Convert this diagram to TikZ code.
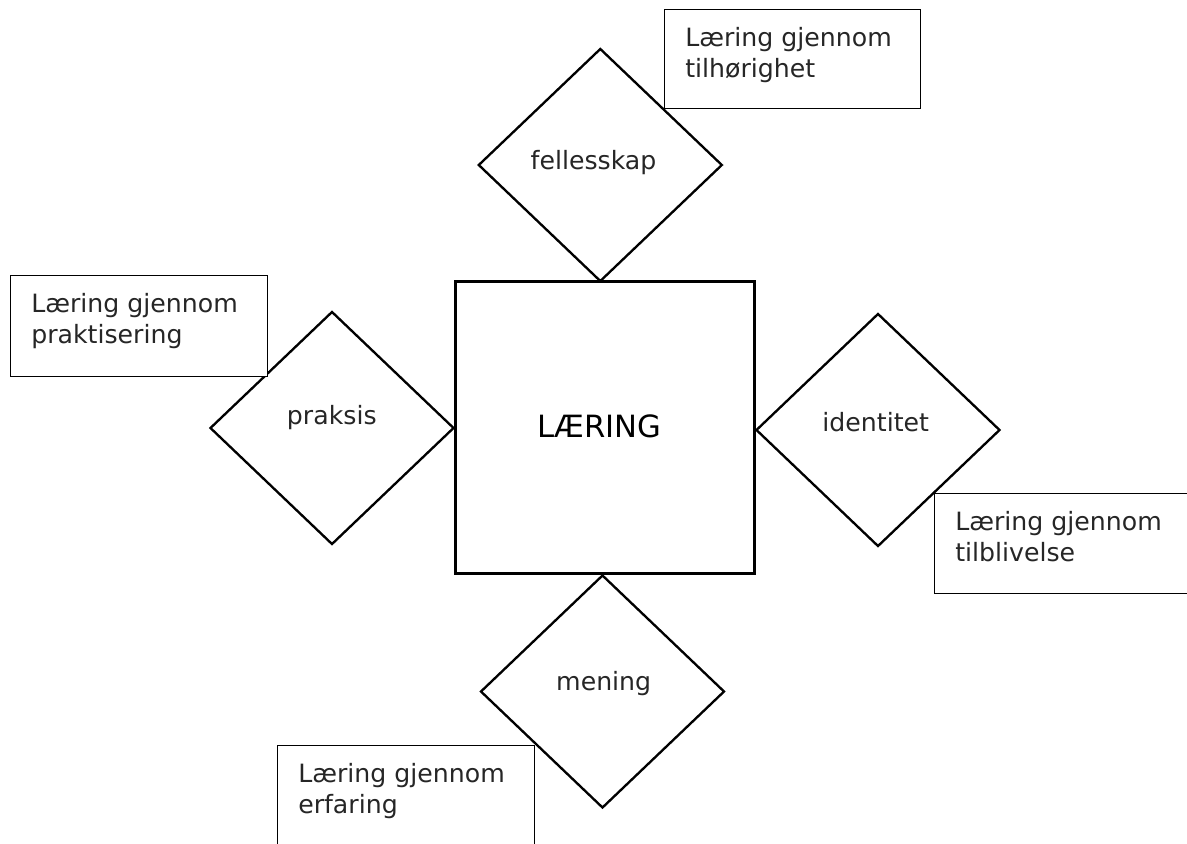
\documentclass[tikz,border=0pt]{standalone}
\usepackage{fontspec}
\setmainfont{DejaVu Sans}
\usetikzlibrary{shapes.geometric,calc}
\begin{document}
\begin{tikzpicture}[x=0.75pt,y=-0.75pt,
  hub/.style={draw, line width=2.2pt, rectangle, inner sep=0pt,
    minimum width={299*0.75pt}, minimum height={292*0.75pt}},
  facet/.style={draw, line width=1.75pt, diamond, inner sep=0pt,
    minimum width={244*0.75pt}, minimum height={233*0.75pt}},
  note/.style={draw, line width=0.9pt, fill=white, rectangle, inner sep=0pt,
    anchor=north west},
  word/.style={inner sep=0pt, anchor=base, text=black!85,
    font=\fontsize{18.9pt}{23pt}\selectfont},
  notetext/.style={inner sep=0pt, anchor=north west, align=left, text=black!85,
    font=\fontsize{18.9pt}{23pt}\selectfont},
  big/.style={inner sep=0pt, anchor=base, font=\fontsize{23pt}{27pt}\selectfont}]
  % page frame
  \useasboundingbox (0,0) rectangle (1187,843);
  \clip (0,0) rectangle (1187,843);

  % central square
  \node[hub] (laering) at (604.7,427.5) {};
  \node[big] (laering-t) at (599.5,437.7) {LÆRING};

  % four diamonds around the square
  \node[facet] (fellesskap) at (600.3,165) {};
  \node[facet] (praksis) at (332,428) {};
  \node[facet] (identitet) at (878,430) {};
  \node[facet] (mening) at (602.5,691.5) {};

  \node[word] (fellesskap-t) at (593.5,169) {fellesskap};
  \node[word] (praksis-t) at (331.8,424) {praksis};
  \node[word] (identitet-t) at (875.7,431) {identitet};
  \node[word] (mening-t) at (603.7,690) {mening};

  % explanation boxes
  \node[note, minimum width={256*0.75pt}, minimum height={99*0.75pt}]
    (tilhorighet) at (664,9) {};
  \node[note, minimum width={257*0.75pt}, minimum height={101*0.75pt}]
    (praktisering) at (10,275) {};
  \node[note, minimum width={270*0.75pt}, minimum height={100*0.75pt}]
    (tilblivelse) at (934,493) {};
  \node[note, minimum width={257*0.75pt}, minimum height={120*0.75pt}]
    (erfaring) at (277,745) {};

  \node[notetext] (tilhorighet-t) at ($(tilhorighet.north west)+(21,18)$)
    {Læring gjennom\\tilhørighet};
  \node[notetext] (praktisering-t) at ($(praktisering.north west)+(21,18)$)
    {Læring gjennom\\praktisering};
  \node[notetext] (tilblivelse-t) at ($(tilblivelse.north west)+(21,18)$)
    {Læring gjennom\\tilblivelse};
  \node[notetext] (erfaring-t) at ($(erfaring.north west)+(21,18)$)
    {Læring gjennom\\erfaring};
\end{tikzpicture}
\end{document}
